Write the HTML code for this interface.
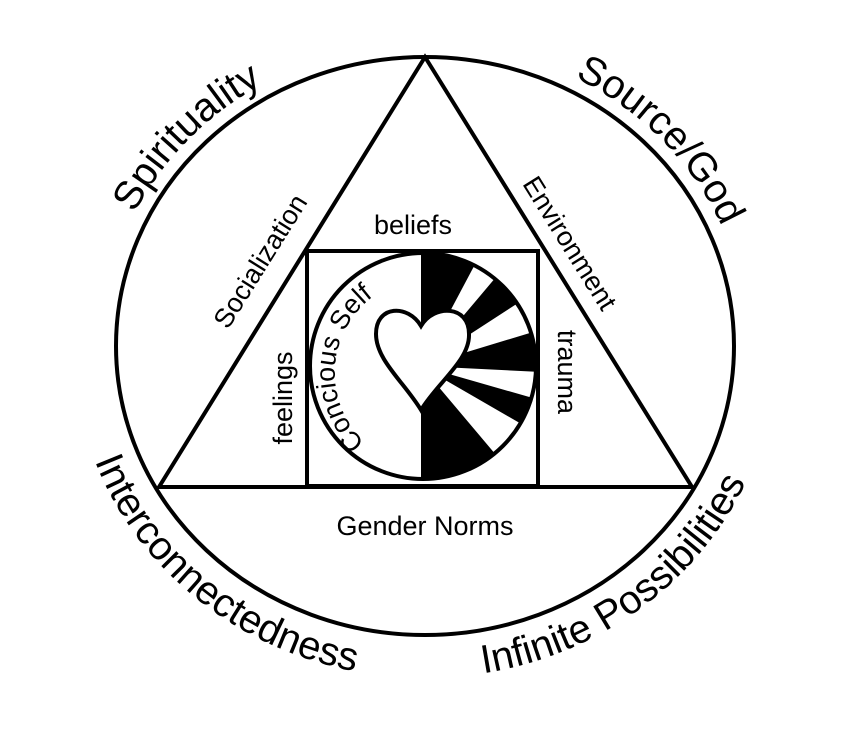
<!DOCTYPE html>
<html><head><meta charset="utf-8"><style>
html,body{margin:0;padding:0;background:#fff;}
svg{display:block;font-family:"Liberation Sans",sans-serif;}
</style></head><body>
<svg width="847" height="750" viewBox="0 0 847 750" xmlns="http://www.w3.org/2000/svg">
<defs>
<path id="pSpi" d="M106.9,293.4 A323,303 0 0 1 341.4,53.3"/>
<path id="pSrc" d="M508.6,53.3 A323,303 0 0 1 743.1,293.4"/>
<path id="pInt" d="M74.3,374.9 A352,332 0 0 0 443.4,677.5"/>
<path id="pInf" d="M406.6,677.5 A352,332 0 0 0 770.5,409.3"/>
<path id="pCon" d="M392,460 A95,95 0 0 1 402,282"/>
<clipPath id="cc"><circle cx="423" cy="366" r="113"/></clipPath>
</defs>
<ellipse cx="425" cy="346" rx="309" ry="289" fill="none" stroke="#000" stroke-width="4"/>
<polygon points="425,57 159,487 692,487" fill="none" stroke="#000" stroke-width="4"/>
<rect x="307" y="251" width="231" height="235" fill="#fff" stroke="#000" stroke-width="4"/>
<circle cx="423" cy="366" r="113" fill="#fff"/>
<g clip-path="url(#cc)" fill="#000">
<polygon points="421,366 421,166 515,189"/>
<polygon points="421,366 550,213 589,257"/>
<polygon points="421,366 612,308 621,376"/>
<polygon points="421,366 613,421 594,466"/>
<polygon points="421,366 550,519 421,566"/>
</g>
<circle cx="423" cy="366" r="113" fill="none" stroke="#000" stroke-width="4"/>
<path d="M421,326 C408,304 376,305 376,334 C376,360 404,382 421,410 C438,382 470,360 469,334 C469,305 434,304 421,326 Z" fill="#fff" stroke="#000" stroke-width="4"/>
<g font-size="40" fill="#000">
<text><textPath href="#pSpi" startOffset="50%" text-anchor="middle">Spirituality</textPath></text>
<text><textPath href="#pSrc" startOffset="50%" text-anchor="middle">Source/God</textPath></text>
<text><textPath href="#pInt" startOffset="50%" text-anchor="middle">Interconnectedness</textPath></text>
<text><textPath href="#pInf" startOffset="50%" text-anchor="middle">Infinite Possibilities</textPath></text>
</g>
<g font-size="27" fill="#000" text-anchor="middle">
<text x="413" y="234">beliefs</text>
<text x="425" y="535">Gender Norms</text>
<text transform="translate(268,266) rotate(-58)">Socialization</text>
<text transform="translate(562,248) rotate(58)">Environment</text>
<text transform="translate(558,372) rotate(90)">trauma</text>
<text transform="translate(292,398) rotate(-90)">feelings</text>
<text><textPath href="#pCon" startOffset="50%" text-anchor="middle">Concious Self</textPath></text>
</g>
</svg>
</body></html>
